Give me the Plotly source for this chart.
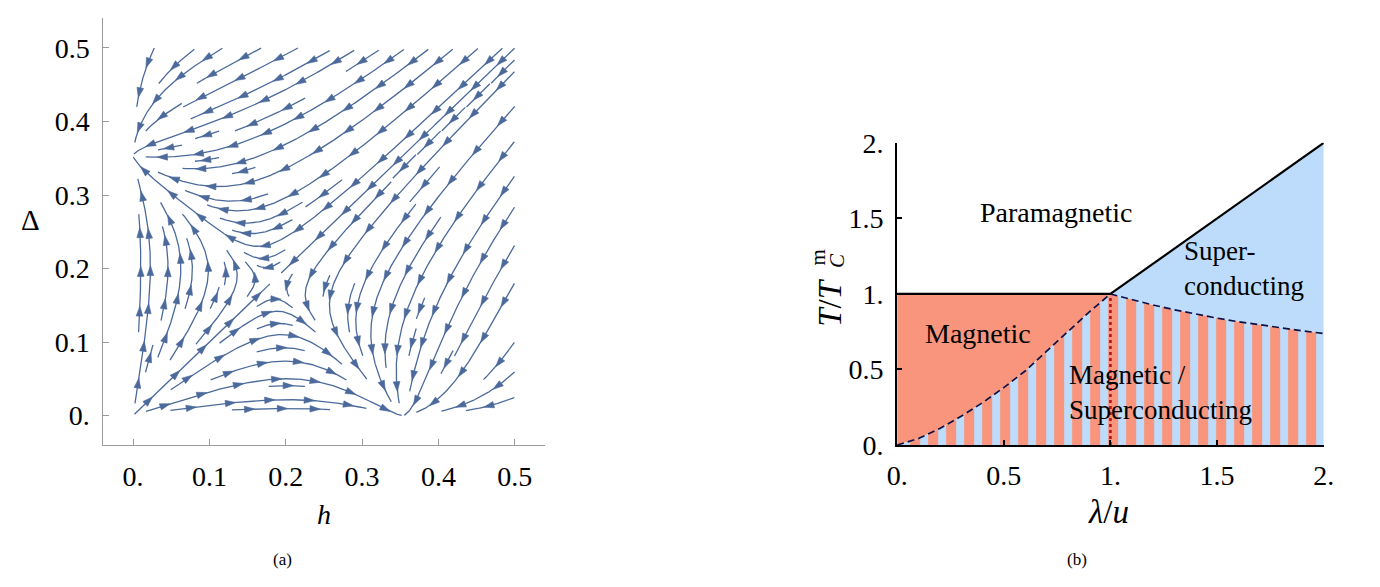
import numpy as np
import plotly.graph_objects as go

W, H = 1380, 587

# ---------------- Panel (a): flow-field (RG flow) parameters ----------------
FLOW_SELF = 8.0       # stable nodes at h* = Delta* = 1/sqrt(8)
FLOW_CROSS = 53.9     # cross coupling, saddle near (0.18, 0.18)
FLOW_POWER = 2.5
FLOW_DOMAIN = [0.0, 0.5]
H_TICKS = [0, 0.1, 0.2, 0.3, 0.4, 0.5]
H_TICK_TEXT = ["0.", "0.1", "0.2", "0.3", "0.4", "0.5"]
D_TICKS = [0, 0.1, 0.2, 0.3, 0.4, 0.5]
D_TICK_TEXT = ["0.", "0.1", "0.2", "0.3", "0.4", "0.5"]

# ---------------- Panel (b): phase diagram ----------------
LAM_TICKS = [0, 0.5, 1, 1.5, 2]
LAM_TICK_TEXT = ["0.", "0.5", "1.", "1.5", "2."]
T_TICKS = [0, 0.5, 1, 1.5, 2]
T_TICK_TEXT = ["0.", "0.5", "1.", "1.5", "2."]
MAG_LINE_X = [0.0, 1.0]
MAG_LINE_T = [1.0, 1.0]
SC_LINE_X = [1.0, 2.0]
SC_LINE_T = [1.0, 2.0]
LOWER_X = [0.0, 0.1, 0.2, 0.3, 0.4, 0.5, 0.6, 0.7, 0.8, 0.9, 1.0]
LOWER_T = [0.0, 0.043, 0.11, 0.19, 0.28, 0.38, 0.49, 0.62, 0.75, 0.88, 1.0]
UPPER_X = [1.0, 1.1, 1.2, 1.3, 1.4, 1.5, 1.6, 1.7, 1.8, 1.9, 2.0]
UPPER_T = [1.0, 0.962, 0.927, 0.895, 0.866, 0.840, 0.816, 0.795, 0.775, 0.756, 0.738]
CRIT_X = [1.0, 1.0]
CRIT_T = [0.0, 1.0]

RED = "#f9957d"
BLUE = "#bddcfc"
STREAM = "#4b6a9b"
SERIF = "Liberation Serif, Times New Roman, serif"


# ---------------- streamline computation ----------------
def field(h, d):
    return (h * (1 - FLOW_SELF * h * h - FLOW_CROSS * abs(d) ** FLOW_POWER),
            d * (1 - FLOW_SELF * d * d - FLOW_CROSS * abs(h) ** FLOW_POWER))


LO, HI = FLOW_DOMAIN
SPAN = HI - LO
M = 31
mask = np.zeros((M, M), dtype=int)
DS = 0.0011
MINLEN = 0.03
MAXLEN = 3.0
SPEED_MIN = 0.003


def cell_of(p):
    i = int((p[0] - LO) / SPAN * M)
    j = int((p[1] - LO) / SPAN * M)
    return (min(max(i, 0), M - 1), min(max(j, 0), M - 1))


def unit(p, sgn):
    u, v = field(p[0], p[1])
    s = float(np.hypot(u, v))
    if s < SPEED_MIN:
        return None
    return (sgn * u / s, sgn * v / s)


def trace(seed, sgn, lid):
    p = seed
    cur = cell_of(p)
    pts, cells = [], []
    L = 0.0
    prev = None
    while L < MAXLEN:
        k1 = unit(p, sgn)
        if k1 is None:
            break
        if prev is not None and k1[0] * prev[0] + k1[1] * prev[1] < 0.3:
            break
        mid = (p[0] + 0.5 * DS * k1[0], p[1] + 0.5 * DS * k1[1])
        k2 = unit(mid, sgn)
        if k2 is None:
            break
        q = (p[0] + DS * k2[0], p[1] + DS * k2[1])
        if not (LO <= q[0] <= HI and LO <= q[1] <= HI):
            break
        c = cell_of(q)
        if c != cur:
            if mask[c]:
                break
            mask[c] = lid
            cells.append(c)
            cur = c
        pts.append(q)
        prev = k1
        p = q
        L += DS
    return pts, cells


def spiral_cells(n):
    out = []
    for layer in range((n + 1) // 2):
        a, b = layer, n - 1 - layer
        if a > b:
            break
        if a == b:
            out.append((a, a))
            break
        for i in range(a, b + 1):
            out.append((i, a))
        for j in range(a + 1, b + 1):
            out.append((b, j))
        for i in range(b - 1, a - 1, -1):
            out.append((i, b))
        for j in range(b - 1, a, -1):
            out.append((a, j))
    return out


lines = []
lid = 0
for (i, j) in spiral_cells(M):
    if mask[i, j]:
        continue
    lid += 1
    seed = (LO + (i + 0.5) / M * SPAN, LO + (j + 0.5) / M * SPAN)
    mask[i, j] = lid
    back, cb = trace(seed, -1, lid)
    fwd, cf = trace(seed, +1, lid)
    pts = back[::-1] + [seed] + fwd
    if (len(pts) - 1) * DS < MINLEN:
        mask[i, j] = 0
        for c in cb + cf:
            mask[c] = 0
        continue
    lines.append(np.array(pts))

ARROW_GAP = 0.05
ARROW_LEN = 0.0135
ARROW_HALF = 0.0044

lx, ly, ax, ay = [], [], [], []
for P in lines:
    lx += list(P[:, 0]) + [None]
    ly += list(P[:, 1]) + [None]
    seg = np.hypot(np.diff(P[:, 0]), np.diff(P[:, 1]))
    s = np.concatenate([[0], np.cumsum(seg)])
    Ltot = s[-1]
    n = max(1, int(round(Ltot / ARROW_GAP)))
    for k in range(n):
        sk = (k + 0.5) * Ltot / n
        idx = int(np.searchsorted(s, sk))
        idx = min(max(idx, 1), len(P) - 1)
        i0 = max(idx - 3, 0)
        i1 = min(idx + 3, len(P) - 1)
        d = P[i1] - P[i0]
        dn = np.hypot(*d)
        if dn == 0:
            continue
        d = d / dn
        nrm = np.array([-d[1], d[0]])
        c = P[idx]
        tip = c + d * ARROW_LEN * 0.6
        base = c - d * ARROW_LEN * 0.4
        b1 = base + nrm * ARROW_HALF
        b2 = base - nrm * ARROW_HALF
        ax += [tip[0], b1[0], b2[0], tip[0], None]
        ay += [tip[1], b1[1], b2[1], tip[1], None]

fig = go.Figure()

fig.add_trace(go.Scatter(x=lx, y=ly, mode="lines", line=dict(color=STREAM, width=1.3),
                         hoverinfo="skip", xaxis="x", yaxis="y"))
fig.add_trace(go.Scatter(x=ax, y=ay, mode="lines", fill="toself", fillcolor=STREAM,
                         line=dict(color=STREAM, width=0.6), hoverinfo="skip",
                         xaxis="x", yaxis="y"))

# ---------------- panel (b) traces ----------------
mag_x = LOWER_X + [0.0]
mag_t = LOWER_T + [1.0]
fig.add_trace(go.Scatter(x=mag_x, y=mag_t, mode="lines", fill="toself", fillcolor=RED,
                         line=dict(width=0), hoverinfo="skip", xaxis="x2", yaxis="y2"))
sc_x = SC_LINE_X + UPPER_X[::-1]
sc_t = SC_LINE_T + UPPER_T[::-1]
fig.add_trace(go.Scatter(x=sc_x, y=sc_t, mode="lines", fill="toself", fillcolor=BLUE,
                         line=dict(width=0), hoverinfo="skip", xaxis="x2", yaxis="y2"))
co_x = LOWER_X + UPPER_X[1:] + [2.0, 0.0]
co_t = LOWER_T + UPPER_T[1:] + [0.0, 0.0]
fig.add_trace(go.Scatter(x=co_x, y=co_t, mode="lines", fill="toself",
                         fillpattern=dict(shape="|", bgcolor=RED, fgcolor=BLUE, fgopacity=1,
                                          size=18, solidity=0.44),
                         line=dict(width=0), hoverinfo="skip", xaxis="x2", yaxis="y2"))
fig.add_trace(go.Scatter(x=CRIT_X, y=CRIT_T, mode="lines",
                         line=dict(color="#b3141c", width=2.6, dash="dot"),
                         hoverinfo="skip", xaxis="x2", yaxis="y2"))
fig.add_trace(go.Scatter(x=LOWER_X, y=LOWER_T, mode="lines",
                         line=dict(color="#0d1148", width=1.7, dash="7px,4px"),
                         hoverinfo="skip", xaxis="x2", yaxis="y2"))
fig.add_trace(go.Scatter(x=UPPER_X, y=UPPER_T, mode="lines",
                         line=dict(color="#0d1148", width=1.7, dash="7px,4px"),
                         hoverinfo="skip", xaxis="x2", yaxis="y2"))
fig.add_trace(go.Scatter(x=MAG_LINE_X, y=MAG_LINE_T, mode="lines",
                         line=dict(color="black", width=2.2),
                         hoverinfo="skip", xaxis="x2", yaxis="y2"))
fig.add_trace(go.Scatter(x=SC_LINE_X, y=SC_LINE_T, mode="lines",
                         line=dict(color="black", width=2.2),
                         hoverinfo="skip", xaxis="x2", yaxis="y2"))


def px(xp):
    return xp / W


def py(yp):
    return 1 - yp / H


tickfont = dict(family=SERIF, size=28, color="black")

fig.update_layout(
    width=W, height=H, margin=dict(l=0, r=0, t=0, b=0),
    paper_bgcolor="white", plot_bgcolor="white", showlegend=False,
    xaxis=dict(domain=[px(93), px(543)], range=[-0.04, 0.54], anchor="y",
               showline=True, linecolor="#9a9a9a", linewidth=1.2,
               ticks="inside", ticklen=6, tickcolor="#9a9a9a", tickwidth=1,
               tickvals=H_TICKS, ticktext=H_TICK_TEXT, tickfont=tickfont,
               ticklabelstandoff=6, showgrid=False, zeroline=False),
    yaxis=dict(domain=[py(454), py(3)], range=[-0.04, 0.541], anchor="x",
               showline=True, linecolor="#9a9a9a", linewidth=1.2,
               ticks="inside", ticklen=6, tickcolor="#9a9a9a", tickwidth=1,
               tickvals=D_TICKS, ticktext=D_TICK_TEXT, tickfont=tickfont,
               ticklabelstandoff=6, showgrid=False, zeroline=False),
    xaxis2=dict(domain=[px(900.5), px(1334)], range=[0, 2], anchor="y2",
                showline=True, linecolor="black", linewidth=2.2,
                ticks="inside", ticklen=5, tickcolor="black", tickwidth=1.5,
                tickvals=LAM_TICKS, ticktext=LAM_TICK_TEXT, tickfont=tickfont,
                ticklabelstandoff=4, showgrid=False, zeroline=False),
    yaxis2=dict(domain=[py(454), py(135)], range=[0, 2], anchor="x2",
                showline=True, linecolor="black", linewidth=2.2,
                ticks="inside", ticklen=5, tickcolor="black", tickwidth=1.5,
                tickvals=T_TICKS, ticktext=T_TICK_TEXT, tickfont=tickfont,
                ticklabelstandoff=6, showgrid=False, zeroline=False),
)

ann = []


def paper_text(text, xp, yp, size, angle=0):
    ann.append(dict(text=text, x=px(xp), y=py(yp), xref="paper", yref="paper",
                    showarrow=False, xanchor="center", yanchor="middle",
                    textangle=angle, font=dict(family=SERIF, size=size, color="black")))


def data_text(text, x, y, size, xanchor="center"):
    ann.append(dict(text=text, x=x, y=y, xref="x2", yref="y2", showarrow=False,
                    xanchor=xanchor, yanchor="middle", align="left", borderpad=0,
                    font=dict(family=SERIF, size=size, color="black")))


paper_text("Δ", 20, 216, 29)
paper_text("<i>h</i>", 318, 527, 28)
paper_text("(a)", 276, 575, 17)
paper_text("(b)", 1083, 575, 17)
paper_text("<i>λ</i>/<i>u</i>", 1115, 525, 33)
paper_text("<i>T</i>/<i>T</i>", 832, 303, 33, angle=-90)
paper_text("m", 821, 256, 21, angle=-90)
paper_text("<i>C</i>", 840, 259, 21, angle=-90)

data_text("Paramagnetic", 0.745, 1.54, 28)
data_text("Magnetic", 0.381, 0.735, 28)
data_text("Super-<br>conducting", 1.34, 1.17, 27, xanchor="left")
data_text("Magnetic /<br>Superconducting", 0.80, 0.345, 27, xanchor="left")

fig.update_layout(annotations=ann)
fig.write_html("out.html", config={"displayModeBar": False},
               post_script="document.body.style.margin='0px';document.body.style.overflow='hidden';")
